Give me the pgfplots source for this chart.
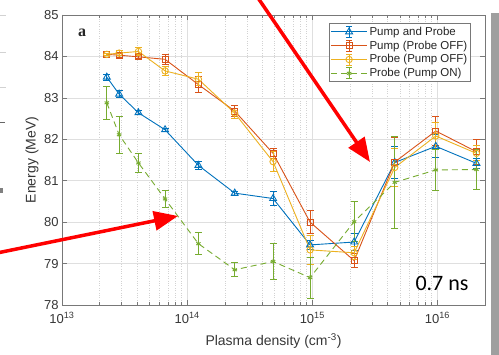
\documentclass[border=0pt]{standalone}
\usepackage{fontspec}
\setmainfont{Liberation Sans}
\newfontfamily\carlito{Carlito}
\newfontfamily\timesf{Liberation Serif}
\usepackage{pgfplots}
\pgfplotsset{compat=1.18}
\usetikzlibrary{arrows.meta}
\definecolor{mblue}{RGB}{0,114,189}
\definecolor{mred}{RGB}{217,83,25}
\definecolor{myellow}{RGB}{237,177,32}
\definecolor{mgreen}{RGB}{119,172,48}
\definecolor{axgray}{RGB}{120,120,120}
\definecolor{txtgray}{RGB}{55,55,55}

\pgfplotstableread{
x y e
2.28e13 83.50 0.07
2.86e13 83.09 0.08
4.08e13 82.64 0.05
6.66e13 82.23 0.04
1.23e14 81.37 0.10
2.4e14 80.70 0.05
4.86e14 80.57 0.16
9.6e14 79.45 0.11
2.16e15 79.52 0.21
4.56e15 81.44 0.39
9.7e15 81.83 0.28
2.05e16 81.42 0.12
}\blue
\pgfplotstableread{
x y e
2.28e13 84.05 0.03
2.86e13 84.03 0.05
4.08e13 83.99 0.05
6.66e13 83.93 0.12
1.23e14 83.32 0.20
2.4e14 82.68 0.13
4.86e14 81.66 0.12
9.6e14 80.00 0.28
2.16e15 79.07 0.17
4.56e15 81.45 0.60
9.7e15 82.20 0.36
2.05e16 81.70 0.30
}\red
\pgfplotstableread{
x y e
2.28e13 84.05 0.03
2.86e13 84.08 0.06
4.08e13 84.12 0.10
6.66e13 83.65 0.10
1.23e14 83.45 0.16
2.4e14 82.63 0.12
4.86e14 81.46 0.24
9.6e14 79.33 0.34
2.16e15 79.26 0.15
4.56e15 81.32 0.45
9.7e15 82.08 0.32
2.05e16 81.66 0.18
}\yellow
\pgfplotstableread{
x y e
2.28e13 82.88 0.39
2.86e13 82.11 0.44
4.08e13 81.43 0.24
6.66e13 80.56 0.21
1.23e14 79.48 0.27
2.4e14 78.85 0.17
4.86e14 79.05 0.43
9.6e14 78.66 0.49
2.16e15 80.01 0.48
4.56e15 80.96 1.12
9.7e15 81.26 0.49
2.05e16 81.27 0.48
}\green

\begin{document}
\begin{tikzpicture}
\path[use as bounding box] (0pt,0pt) rectangle (499pt,355pt);
\fill[white] (0pt,0pt) rectangle (499pt,355pt);
% cropped remnants at the left edge
\draw[gray!35, line width=0.6pt] (0pt,340pt) -- (6pt,340pt) (0pt,303pt) -- (6pt,303pt) (0pt,268pt) -- (6pt,268pt);
\draw[gray!80!black, line width=0.7pt] (0pt,233pt) -- (5pt,233pt);
\fill[gray] (0pt,162pt) rectangle (3pt,167pt);
\begin{axis}[
  at={(62pt,50pt)}, anchor=south west,
  scale only axis, width=423pt, height=290pt,
  xmode=log, xmin=1e13, xmax=2.4e16, ymin=78, ymax=85,
  xtick={1e13,1e14,1e15,1e16},
  xticklabels={10\textsuperscript{13},10\textsuperscript{14},10\textsuperscript{15},10\textsuperscript{16}},
  ytick={78,79,80,81,82,83,84,85},
  /pgf/number format/assume math mode=true,
  ticklabel style={font=\fontsize{13}{13}\selectfont, text=txtgray},
  xticklabel style={yshift=-4pt},
  xmajorgrids, xminorgrids, ymajorgrids,
  major grid style={draw=gray!25, line width=0.5pt},
  minor grid style={draw=gray!35, dotted, line width=0.5pt},
  tick align=inside,
  major tick length=5pt, minor tick length=3pt,
  tick style={axgray, line width=0.5pt},
  axis line style={axgray, line width=0.7pt},
  xlabel={Plasma density (cm\textsuperscript{-3})},
  ylabel={Energy (MeV)},
  label style={font=\fontsize{14}{14}\selectfont, text=txtgray},
  xlabel style={at={(axis description cs:0.5,-0.124)}, anchor=center},
  ylabel style={at={(axis description cs:-0.071,0.5)}, anchor=center},
  legend style={at={(axis description cs:0.966,0.972)}, anchor=north east,
    draw=axgray, fill=white, font=\fontsize{11.5}{13}\selectfont, text=black!85,
    inner xsep=1pt, inner ysep=1.5pt, row sep=0pt, line width=0.6pt,
    nodes={inner xsep=2pt}},
  legend cell align=left,
  legend image code/.code={
    \draw[mark repeat=2,mark phase=2,#1] plot coordinates {(0pt,0pt) (18pt,0pt) (36pt,0pt)};
    \draw[#1,solid,mark=none] (18pt,-5.5pt) -- (18pt,5.5pt) (15pt,-5.5pt) -- (21pt,-5.5pt) (15pt,5.5pt) -- (21pt,5.5pt);
  },
  error bars/y dir=both, error bars/y explicit,
]
\addplot[mblue, line width=0.9pt, mark=triangle, mark size=4pt, mark options={solid},
  error bars/error mark=-, error bars/error mark options={mblue, mark size=3.5pt, line width=0.9pt, rotate=90},
  error bars/error bar style={mblue, line width=0.9pt}]
  table[x=x, y=y, y error=e] {\blue};
\addlegendentry{Pump and Probe}
\addplot[mred, line width=0.9pt, mark=square, mark size=2.9pt, mark options={solid},
  error bars/error mark=-, error bars/error mark options={mred, mark size=3.5pt, line width=0.9pt, rotate=90},
  error bars/error bar style={mred, line width=0.9pt}]
  table[x=x, y=y, y error=e] {\red};
\addlegendentry{Pump (Probe OFF)}
\addplot[myellow, line width=0.9pt, mark=o, mark size=3.2pt, mark options={solid},
  error bars/error mark=-, error bars/error mark options={myellow, mark size=3.5pt, line width=0.9pt, rotate=90},
  error bars/error bar style={myellow, line width=0.9pt}]
  table[x=x, y=y, y error=e] {\yellow};
\addlegendentry{Probe (Pump OFF)}
\addplot[mgreen, line width=0.9pt, dashed, dash pattern=on 6pt off 4pt, mark=asterisk, mark size=2.5pt, mark options={solid},
  error bars/error mark=-, error bars/error mark options={mgreen, mark size=3.5pt, line width=0.9pt, rotate=90},
  error bars/error bar style={mgreen, solid, line width=0.9pt}]
  table[x=x, y=y, y error=e] {\green};
\addlegendentry{Probe (Pump ON)}
\end{axis}
\node[font=\timesf\bfseries\fontsize{16}{16}\selectfont, text=black!85] at (82pt,322pt) {a};
\node[font=\carlito\fontsize{22}{22}\selectfont] at (442pt,72pt) {0.7 ns};
% gray bar at the right edge
\fill[gray!75] (491pt,0pt) rectangle (499pt,342pt);
% red arrows
\draw[red, line width=3.5pt, -{Triangle[length=24pt,width=19pt]}] (256pt,360pt) -- (370pt,193pt);
\draw[red, line width=3.5pt, -{Triangle[length=24pt,width=19pt]}] (-3pt,102pt) -- (178pt,139pt);
\end{tikzpicture}
\end{document}
